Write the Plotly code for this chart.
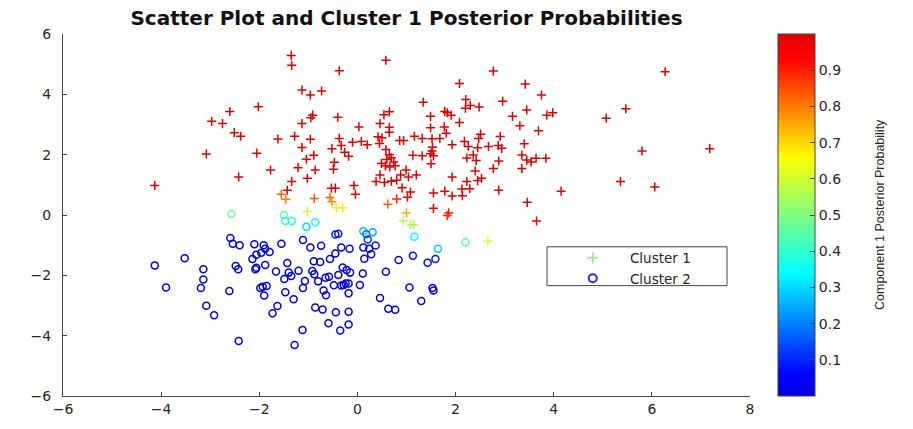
import plotly.graph_objects as go

# ---- Cluster 1 points (plotted with '+') ----
c1_x = [-2.60, -2.02, -2.97, -2.75, -2.51, -2.38, -1.62, -3.08, -2.05, -1.77, -2.42, -4.13, -1.43, -1.55, -1.46,
        -1.35, -1.34, 0.58, -0.37, 2.77, 2.08, 3.42, -1.13, -0.96, -0.73, 1.34, 2.21, 2.96, 2.30, 2.20, 2.48, 3.45,
        0.65, 0.54, 1.78, 1.83, 1.91, -0.91, -0.95, -0.40, 1.49, 3.16, -1.13, 0.46, 2.08, 3.31, 0.03, 0.65, 1.49,
        1.77, 0.65, 1.81, -1.28, -0.96, -0.37, 0.42, 0.50, 1.16, 1.32, 1.52, 1.68, 2.51, 2.47, 2.91, -0.10, 0.08,
        0.20, 0.45, 0.86, 0.94, 2.18, -1.13, -0.33, -0.52, 0.58, 1.53, 1.93, 2.26, 2.45, 2.67, 2.87, 2.94, 3.40,
        -0.26, -0.18, -0.89, -1.04, 0.65, 0.69, 0.60, 1.13, 1.32, 1.49, 1.55, 1.52, 2.36, 2.23, 2.42, 3.35, 3.45,
        -0.47, 0.49, 0.74, 0.57, 0.66, 0.77, 1.50, 2.88, -1.21, -0.86, -0.49, 0.99, 2.40, 2.77, 3.35, -1.02, 0.46,
        0.88, 1.04, 1.20, 1.93, -1.34, 0.38, 0.55, 0.69, 0.80, 2.23, 2.45, 2.53, -0.53, -0.45, -0.07, 0.91, 2.13,
        2.29, 2.88, 1.08, 1.55, 1.78, -0.04, 1.02, 1.93, 2.14, 3.46, -0.88, -0.56, -0.52, 0.80, 0.62, 1.55, -0.43,
        -0.30, -1.02, 1.00, 1.86, 1.83, 0.94, 1.09, 1.15, 2.66, 6.27, 3.75, 3.86, 3.98, 5.47, 5.07, 3.69, 3.54,
        3.64, 3.84, 5.80, 7.18, 5.36, 6.06, 4.15, 3.65]
c1_y = [3.43, 3.59, 3.11, 3.03, 2.73, 2.61, 2.52, 2.02, 2.05, 1.49, 1.26, 0.98, 0.82, 0.69, 0.52,
        5.29, 4.96, 5.13, 4.78, 4.77, 4.36, 4.34, 4.14, 3.98, 4.11, 3.74, 3.83, 3.77, 3.63, 3.54, 3.58, 3.48,
        3.42, 3.32, 3.43, 3.39, 3.31, 3.31, 3.22, 3.24, 3.27, 3.27, 3.03, 3.03, 3.07, 2.96, 2.92, 2.91, 2.89,
        2.92, 2.74, 2.71, 2.61, 2.51, 2.54, 2.59, 2.56, 2.61, 2.54, 2.53, 2.54, 2.68, 2.54, 2.60, 2.41, 2.44,
        2.33, 2.37, 2.47, 2.47, 2.44, 2.24, 2.30, 2.20, 2.17, 2.25, 2.33, 2.27, 2.23, 2.27, 2.30, 2.21, 2.36,
        2.08, 1.95, 1.98, 1.85, 2.00, 1.90, 1.84, 1.98, 1.96, 2.03, 1.96, 2.12, 1.99, 1.89, 1.81, 1.99, 1.82,
        1.75, 1.71, 1.76, 1.63, 1.59, 1.63, 1.70, 1.79, 1.57, 1.49, 1.52, 1.49, 1.46, 1.54, 1.54, 1.22, 1.33,
        1.33, 1.26, 1.33, 1.26, 1.11, 1.11, 1.08, 1.12, 1.15, 1.11, 1.14, 1.22, 0.89, 0.89, 0.98, 0.90, 0.86,
        0.87, 0.82, 0.76, 0.73, 0.79, 0.69, 0.59, 0.63, 0.64, 0.42, 0.55, 0.58, 0.44, 0.53, 0.36, 0.22, 0.24,
        0.24, 0.12, 0.07, 0.07, -0.02, -0.19, -0.32, -0.32, -0.86, 4.75, 3.98, 3.31, 3.39, 3.52, 3.21, 2.79, 1.76,
        1.88, 1.88, 2.12, 2.20, 1.11, 0.93, 0.79, -0.20]
c1_p = [1.00, 1.00, 1.00, 1.00, 1.00, 1.00, 1.00, 1.00, 1.00, 1.00, 1.00, 1.00, 0.97, 0.82, 0.80,
        1.00, 1.00, 1.00, 1.00, 1.00, 1.00, 1.00, 1.00, 1.00, 1.00, 1.00, 1.00, 1.00, 1.00, 1.00, 1.00, 1.00,
        1.00, 1.00, 1.00, 1.00, 1.00, 1.00, 1.00, 1.00, 1.00, 1.00, 1.00, 1.00, 1.00, 1.00, 1.00, 1.00, 1.00,
        1.00, 1.00, 1.00, 1.00, 1.00, 1.00, 1.00, 1.00, 1.00, 1.00, 1.00, 1.00, 1.00, 1.00, 1.00, 1.00, 1.00,
        1.00, 1.00, 1.00, 1.00, 1.00, 1.00, 1.00, 1.00, 1.00, 1.00, 1.00, 1.00, 1.00, 1.00, 1.00, 1.00, 1.00,
        1.00, 1.00, 1.00, 1.00, 1.00, 1.00, 1.00, 1.00, 1.00, 1.00, 1.00, 1.00, 1.00, 1.00, 1.00, 1.00, 1.00,
        1.00, 1.00, 1.00, 1.00, 1.00, 1.00, 1.00, 1.00, 1.00, 1.00, 1.00, 1.00, 1.00, 1.00, 1.00, 0.99, 1.00,
        1.00, 1.00, 1.00, 1.00, 0.99, 1.00, 1.00, 1.00, 1.00, 1.00, 1.00, 1.00, 0.99, 0.99, 0.99, 1.00, 1.00,
        1.00, 1.00, 0.99, 0.99, 0.99, 0.98, 0.98, 0.99, 0.99, 1.00, 0.84, 0.82, 0.78, 0.90, 0.83, 0.93, 0.68,
        0.68, 0.60, 0.75, 0.90, 0.88, 0.57, 0.56, 0.56, 0.63, 1.00, 1.00, 1.00, 1.00, 1.00, 1.00, 1.00, 1.00,
        1.00, 1.00, 1.00, 1.00, 1.00, 1.00, 1.00, 0.97]

# ---- Cluster 2 points (plotted with 'o') ----
c2_x = [-2.57, -1.50, -1.47, -1.34, -2.59, -2.54, -2.40, -2.10, -1.91, -1.88, -1.96, -1.79, -2.06, -2.14,
        -1.55, -3.52, -4.13, -3.14, -2.48, -2.43, -2.06, -2.08, -1.88, -1.66, -1.43, -1.40, -1.49, -3.14,
        -3.90, -3.19, -2.61, -1.98, -1.93, -1.85, -1.47, -1.90, -3.08, -1.63, -2.92, -1.73, -2.42,
        -0.86, -1.04, 1.16, 2.20, 1.64, -0.45, -0.39, 0.12, 0.31, 0.18, 0.21, 0.37, 0.12, 0.24, 0.28, 0.14,
        -1.11, -0.96, -0.74, -0.33, -0.16, -0.45, -0.56, -0.89, -0.76, -1.20, -1.35, -0.92, -0.88, -1.07,
        -0.80, -0.65, -0.58, -0.39, -0.30, -0.22, -0.15, 0.11, 0.58, 0.84, 1.13, 1.43, 1.59, -1.11, -0.48,
        -0.33, -0.24, -0.18, -0.28, 0.05, -0.69, -0.64, -0.18, -1.30, 0.46, 1.06, 1.53, 1.55, 1.30, -0.86,
        -0.71, -0.44, -0.18, 0.63, 0.77, -0.59, -0.18, -0.35, -1.12, -1.28]
c2_y = [0.03, 0.00, -0.20, -0.20, -0.76, -0.95, -1.00, -0.97, -1.00, -1.12, -1.25, -1.23, -1.32, -1.46,
        -0.95, -1.43, -1.67, -1.80, -1.69, -1.80, -1.75, -1.80, -1.66, -1.87, -1.59, -1.91, -2.12, -2.14,
        -2.40, -2.42, -2.52, -2.42, -2.38, -2.35, -2.56, -2.67, -3.01, -3.02, -3.32, -3.26, -4.18,
        -0.24, -0.39, -0.72, -0.90, -1.12, -0.65, -0.62, -0.54, -0.57, -0.64, -0.81, -1.01, -1.08, -1.12,
        -1.30, -1.45, -0.83, -1.08, -1.02, -1.08, -1.12, -1.28, -1.46, -1.53, -1.56, -1.85, -2.02, -1.86,
        -1.96, -2.19, -2.20, -2.08, -2.05, -1.99, -1.74, -1.82, -1.91, -1.94, -1.88, -1.49, -1.35, -1.58,
        -1.46, -2.42, -2.33, -2.34, -2.27, -2.27, -2.32, -2.32, -2.50, -2.66, -2.59, -2.79, -2.75, -2.40,
        -2.42, -2.50, -2.85, -3.07, -3.13, -3.22, -3.21, -3.11, -3.14, -3.59, -3.63, -3.83, -3.81, -4.31]
c2_p = [0.47, 0.47, 0.36, 0.36, 0.03, 0.02, 0.02, 0.02, 0.02, 0.02, 0.01, 0.02, 0.01, 0.01,
        0.04, 0.01, 0.01, 0.01, 0.01, 0.01, 0.01, 0.01, 0.01, 0.01, 0.02, 0.01, 0.01, 0.01,
        0.01, 0.01, 0.01, 0.01, 0.01, 0.01, 0.01, 0.01, 0.01, 0.01, 0.01, 0.01, 0.01,
        0.37, 0.30, 0.36, 0.45, 0.28, 0.08, 0.08, 0.27, 0.25, 0.18, 0.12, 0.08, 0.05, 0.06, 0.04, 0.04,
        0.05, 0.03, 0.04, 0.04, 0.04, 0.03, 0.02, 0.02, 0.02, 0.01, 0.01, 0.01, 0.01, 0.01,
        0.01, 0.01, 0.01, 0.01, 0.02, 0.02, 0.02, 0.02, 0.03, 0.06, 0.07, 0.07, 0.09, 0.01, 0.01,
        0.01, 0.01, 0.01, 0.01, 0.01, 0.01, 0.01, 0.01, 0.01, 0.02, 0.02, 0.04, 0.04, 0.02, 0.01,
        0.01, 0.01, 0.01, 0.01, 0.01, 0.01, 0.01, 0.01, 0.01, 0.01]

legend_names = ["Cluster 1", "Cluster 2"]
cbar_ticks = [0.1, 0.2, 0.3, 0.4, 0.5, 0.6, 0.7, 0.8, 0.9]
x_ticks = [-6, -4, -2, 0, 2, 4, 6, 8]
y_ticks = [-6, -4, -2, 0, 2, 4, 6]

jet = [[0.0, "rgb(0,0,225)"], [0.06, "rgb(0,0,255)"], [0.34, "rgb(0,255,255)"],
       [0.5, "rgb(128,255,128)"], [0.66, "rgb(255,255,0)"], [0.93, "rgb(255,0,0)"],
       [1.0, "rgb(225,0,0)"]]

FONT = "DejaVu Sans, Liberation Sans, Arial, sans-serif"
TXT = "#262626"

fig = go.Figure()

fig.add_trace(go.Scatter(
    x=c2_x, y=c2_y, mode="markers", showlegend=False, hoverinfo="skip",
    marker=dict(symbol="circle-open", size=7, color=c2_p, colorscale=jet, cmin=0, cmax=1,
                line=dict(width=1.5)),
))
fig.add_trace(go.Scatter(
    x=c1_x, y=c1_y, mode="markers", showlegend=False, hoverinfo="skip",
    marker=dict(symbol="cross-thin-open", size=6.5, color=c1_p, colorscale=jet, cmin=0, cmax=1,
                line=dict(width=1.5),
                colorbar=dict(thickness=37, len=1.0, lenmode="fraction", y=0.5, yanchor="middle",
                              x=1.0408, xanchor="left", xpad=0, ypad=0,
                              outlinewidth=1, outlinecolor="#444",
                              tickvals=cbar_ticks, ticktext=[str(v) for v in cbar_ticks],
                              ticks="inside", ticklen=5, tickcolor="#444",
                              tickfont=dict(family=FONT, size=14, color=TXT))),
))
# legend entries
fig.add_trace(go.Scatter(
    x=[None], y=[None], mode="markers", name="\u00a0\u00a0\u00a0\u00a0" + legend_names[0],
    marker=dict(symbol="cross-thin-open", size=8, color="rgb(140,240,140)", line=dict(width=1.5)),
))
fig.add_trace(go.Scatter(
    x=[None], y=[None], mode="markers", name="\u00a0\u00a0\u00a0\u00a0" + legend_names[1],
    marker=dict(symbol="circle-open", size=8, color="rgb(40,40,255)", line=dict(width=2)),
))

axis_common = dict(showgrid=False, zeroline=False, showline=True, linecolor="#444", linewidth=1,
                   ticks="inside", ticklen=4, tickcolor="#444", mirror=False,
                   tickfont=dict(family=FONT, size=14, color=TXT))

fig.update_layout(
    width=913, height=429,
    margin=dict(l=63, r=163, t=34, b=31),
    paper_bgcolor="white", plot_bgcolor="white",
    title=dict(text="<b>Scatter Plot and Cluster 1 Posterior Probabilities</b>",
               x=0.5, xref="paper", xanchor="center", y=1 - 18 / 429, yref="container", yanchor="middle",
               font=dict(family=FONT, size=20, color="#111")),
    xaxis=dict(range=[-6, 8], tickvals=x_ticks, **axis_common),
    yaxis=dict(range=[-6, 6], tickvals=y_ticks, ticklabelstandoff=8, **axis_common),
    legend=dict(x=0.742, y=0.424, xanchor="left", yanchor="top", bgcolor="rgba(0,0,0,0)",
                borderwidth=0, font=dict(family=FONT, size=13.5, color=TXT), tracegroupgap=0),
    shapes=[dict(type="rect", xref="paper", yref="paper", x0=0.7045, x1=0.9665, y0=0.3049, y1=0.4121,
                 line=dict(color="#444", width=1), fillcolor="rgba(0,0,0,0)", layer="above")],
    annotations=[dict(text="Component 1 Posterior Probability", xref="paper", yref="paper",
                      x=(880 - 63) / 687, y=0.5, textangle=-90, showarrow=False,
                      xanchor="center", yanchor="middle",
                      font=dict(family="Liberation Sans, Arial, sans-serif", size=12.5, color=TXT))],
)

fig.write_html("out.html")
